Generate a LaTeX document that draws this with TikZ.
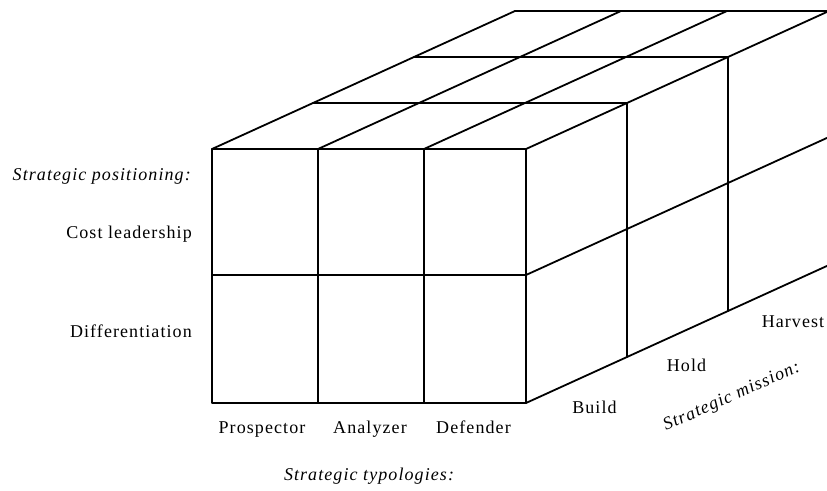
\documentclass[tikz,border=0pt]{standalone}
\usepackage{fontspec}
\setmainfont{Liberation Serif}[LetterSpace=6]
\begin{document}
\begin{tikzpicture}[x=1pt,y=-1pt,
  edge/.style={line width=1.8pt,line join=round,line cap=round},
  lab/.style={inner sep=0pt,font=\fontsize{18}{21}\selectfont},
  ilab/.style={lab,font=\fontsize{18}{21}\selectfont\itshape}]
\useasboundingbox (0,0) rectangle (827,490);
\clip (0,0) rectangle (827,490);
% depth vector
\def\dx{101}\def\dy{-46}
% front face
\draw[edge] (212,149) rectangle (526,403);
\draw[edge] (318,149) -- (318,403);
\draw[edge] (424,149) -- (424,403);
\draw[edge] (212,275) -- (526,275);
% top face: receding edges from front top corners
\foreach \x in {212,318,424,526}
  \draw[edge] (\x,149) -- ++(3*\dx,3*\dy);
% top face: depth lines
\foreach \k in {1,2,3}
  \draw[edge] (212+\k*\dx,149+\k*\dy) -- (526+\k*\dx,149+\k*\dy);
% right face: receding edges
\foreach \y in {275,403}
  \draw[edge] (526,\y) -- ++(3*\dx,3*\dy);
% right face: verticals
\foreach \k in {1,2}
  \draw[edge] (526+\k*\dx,149+\k*\dy) -- (526+\k*\dx,403+\k*\dy);
% labels
\node[ilab,anchor=base east] (pos) at (191,180) {Strategic positioning:};
\node[lab,anchor=base east] (cost) at (192,238) {Cost leadership};
\node[lab,anchor=base east] (diff) at (192,337) {Differentiation};
\node[lab,anchor=base] (pro) at (262,433) {Prospector};
\node[lab,anchor=base] (ana) at (370,433) {Analyzer};
\node[lab,anchor=base] (def) at (473.5,433) {Defender};
\node[ilab,anchor=base] (typ) at (369,480) {Strategic typologies:};
\node[lab,anchor=base] (bui) at (594.5,413) {Build};
\node[lab,anchor=base] (hol) at (686.5,371) {Hold};
\node[lab,anchor=base] (har) at (793,327) {Harvest};
\node[ilab,anchor=base west,rotate=24] (mis) at (666,431) {Strategic mission:};
\end{tikzpicture}
\end{document}
